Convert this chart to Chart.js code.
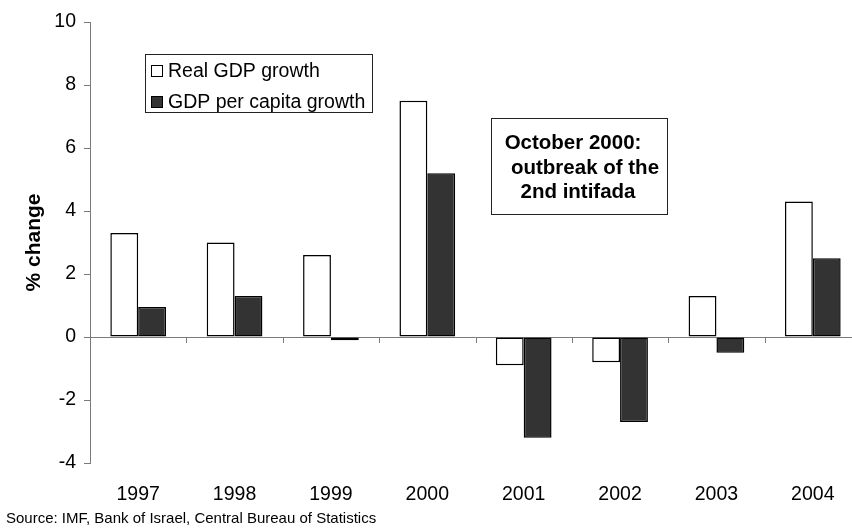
<!DOCTYPE html>
<html>
<head>
<meta charset="utf-8">
<script src="https://cdn.jsdelivr.net/npm/chart.js@4/dist/chart.umd.min.js"></script>
<style>
  html, body { margin: 0; padding: 0; background: #fff; overflow: hidden; }
  #wrap { position: relative; width: 862px; height: 529px; }
</style>
</head>
<body>
<div id="wrap"><canvas id="c" width="862" height="529"></canvas></div>
<script>
// Annual growth, % change
const years = ['1997', '1998', '1999', '2000', '2001', '2002', '2003', '2004'];
const realGdpGrowth = [3.3, 3.0, 2.6, 7.5, -0.9, -0.8, 1.3, 4.3];
const gdpPerCapitaGrowth = [0.95, 1.3, -0.1, 5.2, -3.2, -2.7, -0.5, 2.5];
const seriesNames = ['Real GDP growth', 'GDP per capita growth'];
const yTicks = [-4, -2, 0, 2, 4, 6, 8, 10];
const noteLines = ['October 2000:', 'outbreak of the', '2nd intifada'];
const sourceNote = 'Source: IMF, Bank of Israel, Central Bureau of Statistics';

const FONT = '"Liberation Sans", Arial, Helvetica, sans-serif';
const AXIS_GREY = '#7a7a7a';
const fills = ['#ffffff', '#333333'];

// Zero line, category separators, legend box, note box and source line
const extras = {
  id: 'extras',
  beforeDatasetsDraw(chart) {
    const { ctx, chartArea, scales } = chart;
    const x = scales.x, y = scales.y;
    const y0 = y.getPixelForValue(0);
    ctx.save();
    ctx.strokeStyle = AXIS_GREY;
    ctx.lineWidth = 1;
    ctx.beginPath();
    ctx.moveTo(chartArea.left, Math.round(y0) + 0.5);
    ctx.lineTo(chartArea.right, Math.round(y0) + 0.5);
    // tick marks between categories, hanging below the zero line
    const n = years.length;
    for (let i = 1; i <= n; i++) {
      const bx = i < n
        ? (x.getPixelForValue(i - 1) + x.getPixelForValue(i)) / 2
        : chartArea.right;
      ctx.moveTo(Math.round(bx) + 0.5, y0);
      ctx.lineTo(Math.round(bx) + 0.5, y0 + 6);
    }
    ctx.stroke();
    ctx.restore();
  },
  afterDraw(chart) {
    const { ctx } = chart;
    ctx.save();
    // legend
    ctx.fillStyle = '#fff';
    ctx.strokeStyle = '#222';
    ctx.lineWidth = 1;
    ctx.fillRect(145, 54, 228, 59);
    ctx.strokeRect(145.5, 54.5, 227, 58);
    ctx.font = '19.5px ' + FONT;
    ctx.textBaseline = 'middle';
    ctx.textAlign = 'left';
    const rows = [71, 102];
    chart.data.datasets.forEach((ds, i) => {
      ctx.fillStyle = ds.backgroundColor;
      ctx.fillRect(151, rows[i] - 6, 12, 12);
      ctx.strokeStyle = '#000';
      ctx.strokeRect(151.5, rows[i] - 5.5, 11, 11);
      ctx.fillStyle = '#000';
      ctx.fillText(ds.label, 168, rows[i] + 1);
    });
    // note box
    ctx.fillStyle = '#fff';
    ctx.fillRect(491, 118, 176, 97);
    ctx.strokeStyle = '#222';
    ctx.strokeRect(491.5, 118.5, 176, 96);
    ctx.fillStyle = '#000';
    ctx.font = 'bold 20.5px ' + FONT;
    ctx.textAlign = 'center';
    const noteX = [573, 585, 578];
    const noteY = [143, 168, 192];
    noteLines.forEach((t, i) => ctx.fillText(t, noteX[i], noteY[i]));
    // source
    ctx.font = '15px ' + FONT;
    ctx.textAlign = 'left';
    ctx.fillText(sourceNote, 6, 519);
    ctx.restore();
  }
};

new Chart(document.getElementById('c'), {
  type: 'bar',
  data: {
    labels: years,
    datasets: [
      { label: seriesNames[0], data: realGdpGrowth, backgroundColor: fills[0], borderColor: '#000', borderWidth: 1.5, borderSkipped: false },
      { label: seriesNames[1], data: gdpPerCapitaGrowth, backgroundColor: fills[1], borderColor: '#000', borderWidth: 1.5, borderSkipped: false }
    ]
  },
  options: {
    responsive: false,
    animation: false,
    devicePixelRatio: 1,
    layout: { padding: { top: 22, right: 1, left: 0, bottom: 0 } },
    datasets: { bar: { categoryPercentage: 0.578, barPercentage: 1.0 } },
    plugins: { legend: { display: false }, tooltip: { enabled: false } },
    scales: {
      x: {
        grid: { display: false, drawTicks: false },
        border: { display: false },
        ticks: { color: '#000', font: { family: FONT, size: 19.5 }, padding: 20, maxRotation: 0 },
        afterFit(s) { s.height = 66; }
      },
      y: {
        min: -4, max: 10,
        afterBuildTicks(s) { s.ticks = yTicks.map(v => ({ value: v })); },
        grid: { drawOnChartArea: false, drawTicks: true, tickLength: 6, color: AXIS_GREY },
        border: { display: true, color: AXIS_GREY, width: 1 },
        ticks: { color: '#000', font: { family: FONT, size: 19.5 }, padding: 8 },
        title: {
          display: true, text: '% change', color: '#000',
          font: { family: FONT, size: 21, weight: 'bold' },
          padding: { top: 22, bottom: 0 }
        },
        afterFit(s) { s.width = 90; }
      }
    }
  },
  plugins: [extras]
});
</script>
</body>
</html>
